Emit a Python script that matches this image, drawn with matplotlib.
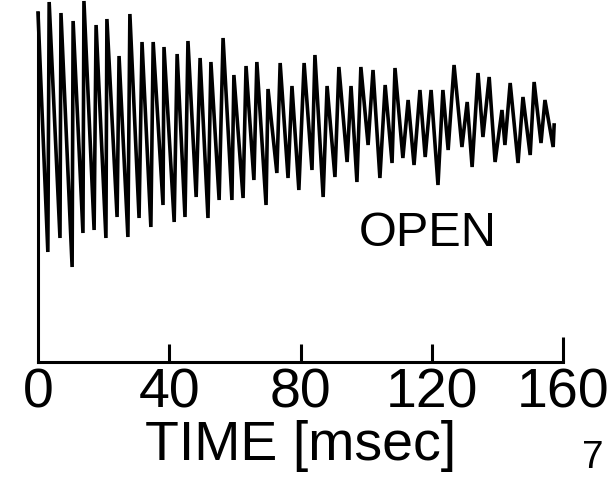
"""Decaying oscillation trace, 'OPEN' case (scanned figure look)."""
import numpy as np
import matplotlib
matplotlib.use("Agg")
import matplotlib.pyplot as plt

# ── data (time in msec, deflection in arbitrary units) ── #
peak_t = [0.0, 3.4, 7.0, 10.7, 14.0, 17.7, 21.0, 24.7, 28.0, 31.7,
          35.1, 38.4, 42.4, 45.7, 49.4, 52.7, 56.4, 59.7, 63.4, 66.7,
          70.1, 73.8, 77.4, 81.1, 84.4, 88.1, 91.7, 95.4, 98.4, 102.1,
          105.8, 108.8, 112.8, 116.4, 119.8, 123.4, 126.8, 130.8, 134.1, 137.5,
          141.4, 143.9, 147.8, 151.2, 154.5, 157.3]
peak_v = [349, 360, 349, 341, 361, 337, 343, 306, 348, 320,
          320, 315, 308, 321, 304, 300, 324, 287, 296, 300,
          273, 299, 276, 299, 307, 276, 295, 276, 295, 292,
          277, 294, 262, 272, 272, 272, 297, 260, 289, 285,
          252, 279, 265, 280, 262, 237]
trough_t = [3.0, 6.7, 10.4, 13.7, 17.1, 20.7, 24.1, 27.4, 30.8, 34.4,
            38.1, 41.5, 44.8, 48.2, 51.8, 55.2, 59.1, 62.5, 65.8, 69.5,
            72.8, 76.2, 79.5, 83.5, 86.9, 90.5, 94.2, 97.2, 100.6, 104.2,
            107.9, 111.2, 114.6, 118.0, 121.9, 125.0, 129.2, 132.3, 135.6, 139.3,
            142.3, 146.3, 150.0, 153.3, 157.0]
trough_v = [110, 124, 95, 129, 132, 124, 145, 125, 144, 135,
            157, 140, 145, 165, 144, 162, 162, 164, 182, 157,
            189, 184, 172, 192, 165, 185, 200, 180, 217, 184,
            199, 204, 197, 205, 177, 212, 215, 195, 225, 200,
            217, 199, 207, 219, 215]

xticks = [0, 40, 80, 120, 160]
xtick_labels = ["0", "40", "80", "120", "160"]
xlabel = "TIME [msec]"
note = "OPEN"
page_no = "7"

FONT = ["Liberation Sans", "DejaVu Sans"]

t = np.concatenate([peak_t, trough_t])
v = np.concatenate([peak_v, trough_v])
order = np.argsort(t, kind="stable")
t, v = t[order], v[order]

fig = plt.figure(figsize=(6.10, 4.79), dpi=100)
ax = fig.add_axes([38 / 610, 117 / 479, 525 / 610, 362 / 479])

ax.plot(t, v, color="black", lw=2.6, solid_joinstyle="miter", clip_on=False)

ax.set_xlim(0, 160)
ax.set_ylim(0, 362)

for side in ("top", "right"):
    ax.spines[side].set_visible(False)
ax.spines["left"].set_bounds(0, peak_v[0])
ax.spines["left"].set_linewidth(2.2)
ax.spines["bottom"].set_linewidth(2.2)

ax.set_yticks([])
ax.set_xticks(xticks)
ax.set_xticklabels(xtick_labels, family=FONT, fontsize=40)
ax.tick_params(axis="x", direction="in", length=13, width=2.2, pad=4)
ax.xaxis.get_major_ticks()[0].tick1line.set_visible(False)
ax.xaxis.get_major_ticks()[-1].tick1line.set_markersize(18)

ax.set_xlabel(xlabel, family=FONT, fontsize=40, labelpad=0)

ax.text(118.9, 128, note, family=FONT, fontsize=35,
        ha="center", va="center")

fig.text(593 / 610, 1 - 458 / 479, page_no, family="Liberation Sans",
         fontsize=28, ha="center", va="center")

fig.savefig("out.png", dpi=100)
